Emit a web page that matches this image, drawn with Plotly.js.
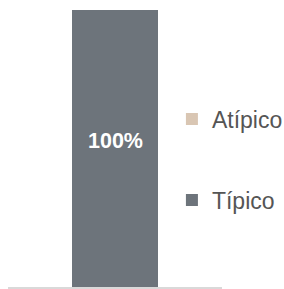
<!DOCTYPE html>
<html>
<head>
<meta charset="utf-8">
<script src="https://cdn.plot.ly/plotly-3.0.1.min.js"></script>
<style>html,body{margin:0;padding:0;background:#fff;}#chart{width:284px;height:289px;}</style>
</head>
<body>
<div id="chart"></div>
<script>
const categories = ['Grupo'];
const tipico = [100];
const atipico = [0];
const seriesNames = ['Típico', 'Atípico'];
const colors = ['#6d747b', '#d9c6b3'];

const traces = [
  {
    type: 'bar', x: categories, y: tipico, name: seriesNames[0],
    marker: {color: colors[0]},
    legend: 'legend2', hoverinfo: 'none'
  },
  {
    type: 'bar', x: categories, y: atipico, name: seriesNames[1],
    marker: {color: colors[1]},
    legend: 'legend', hoverinfo: 'none'
  }
];

const annotations = categories.map((c, i) => ({
  x: c, y: tipico[i] / 2, xref: 'x', yref: 'y',
  text: '<b>' + tipico[i] + '%</b>', showarrow: false, yshift: 8,
  font: {color: '#ffffff', size: 21.5, family: 'Liberation Sans, Arial, sans-serif'}
}));

const legendFont = {size: 23, color: '#555555', family: 'Liberation Sans, Arial, sans-serif'};
const layout = {
  width: 284, height: 289,
  margin: {l: 8, r: 62, t: 10, b: 2, pad: 0, autoexpand: false},
  paper_bgcolor: '#ffffff', plot_bgcolor: '#ffffff',
  barmode: 'stack', bargap: 0.6,
  showlegend: true,
  annotations: annotations,
  xaxis: {showticklabels: false, ticks: '', showgrid: false, zeroline: false, automargin: false,
          showline: true, linecolor: '#d9d9d9', linewidth: 2, fixedrange: true},
  yaxis: {range: [0, 100], visible: false, fixedrange: true, automargin: false},
  legend: {x: 0.766, xanchor: 'left', y: 0.606, yanchor: 'middle', font: legendFont, bgcolor: 'rgba(0,0,0,0)'},
  legend2: {x: 0.766, xanchor: 'left', y: 0.314, yanchor: 'middle', font: legendFont, bgcolor: 'rgba(0,0,0,0)'}
};

Plotly.newPlot('chart', traces, layout, {displayModeBar: false, staticPlot: true});
</script>
</body>
</html>
